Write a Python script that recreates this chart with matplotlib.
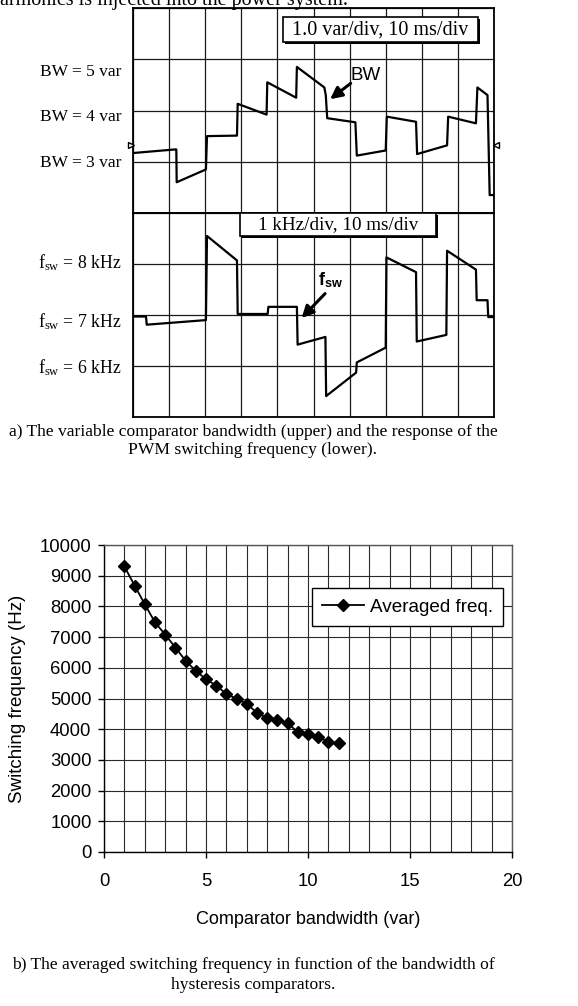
import matplotlib
matplotlib.use("Agg")
import matplotlib.pyplot as plt
from matplotlib.patches import Rectangle

# ---------------- data ----------------
# upper trace: comparator bandwidth (var) vs time (ms)
bw_t = [0, 11.6, 12.0, 12.1, 20.2, 20.5, 28.8, 29.0, 37.0, 37.2, 45.2, 45.4,
        53.0, 53.4, 53.8, 61.6, 62.0, 70.0, 70.3, 78.4, 78.7, 87.0, 87.3,
        95.0, 95.4, 98.2, 98.8, 100]
bw_v = [3.17, 3.24, 3.24, 2.60, 2.85, 3.50, 3.51, 4.13, 3.92, 4.55, 4.25, 4.85,
        4.45, 4.30, 3.85, 3.77, 3.12, 3.22, 3.88, 3.78, 3.15, 3.32, 3.88,
        3.75, 4.45, 4.30, 2.35, 2.35]

# lower trace: switching frequency (kHz) vs time (ms)
fsw_t = [0, 3.6, 3.8, 20.2, 20.5, 28.8, 29.0, 37.3, 37.5, 45.4, 45.6, 53.3, 53.5,
         61.8, 62.0, 70.0, 70.2, 78.4, 78.6, 86.8, 87.0, 95.0, 95.2, 98.2, 98.4, 100]
fsw_v = [6.97, 6.97, 6.81, 6.90, 8.55, 8.07, 7.02, 7.02, 7.16, 7.16, 6.42, 6.57, 5.41,
         5.87, 6.07, 6.36, 8.13, 7.84, 6.48, 6.61, 8.26, 7.89, 7.29, 7.29, 6.96, 6.96]

bw_labels = ["BW = 5 var", "BW = 4 var", "BW = 3 var"]
fsw_labels = [r"f$_{\rm sw}$ = 8 kHz", r"f$_{\rm sw}$ = 7 kHz", r"f$_{\rm sw}$ = 6 kHz"]

# averaged switching frequency vs comparator bandwidth
bandwidth = [1, 1.5, 2, 2.5, 3, 3.5, 4, 4.5, 5, 5.5, 6, 6.5, 7, 7.5, 8, 8.5,
             9, 9.5, 10, 10.5, 11, 11.5]
avg_freq = [9300, 8680, 8070, 7480, 7080, 6660, 6230, 5900, 5630, 5420, 5150,
            4990, 4830, 4530, 4360, 4290, 4200, 3900, 3840, 3740, 3590, 3540]
x_ticks = [0, 5, 10, 15, 20]
y_ticks = list(range(0, 10001, 1000))

# ---------------- style ----------------
plt.rcParams["mathtext.fontset"] = "custom"
plt.rcParams["mathtext.rm"] = "Liberation Serif"
plt.rcParams["mathtext.it"] = "Liberation Serif:italic"
plt.rcParams["mathtext.bf"] = "Liberation Sans:bold"
SERIF = "Liberation Serif"
SANS = "Liberation Sans"

W, H = 578, 1006
fig = plt.figure(figsize=(W / 100, H / 100), dpi=100)


def ax_rect(x0, y0, x1, y1):
    return [x0 / W, 1 - y1 / H, (x1 - x0) / W, (y1 - y0) / H]


# ---------------- scope panels ----------------
ax_u = fig.add_axes(ax_rect(133, 8, 494, 213))
ax_l = fig.add_axes(ax_rect(133, 213, 494, 417))

for ax, ylim in ((ax_u, (2, 6)), (ax_l, (5, 9))):
    ax.set_xlim(0, 100)
    ax.set_ylim(*ylim)
    ax.set_xticks(range(0, 101, 10))
    ax.set_yticks(range(int(ylim[0]), int(ylim[1]) + 1))
    ax.grid(True, color="#1a1a1a", lw=0.9)
    ax.tick_params(length=0, labelleft=False, labelbottom=False)
    for s in ax.spines.values():
        s.set_linewidth(1.3)
        s.set_color("black")

ax_u.plot(bw_t, bw_v, color="black", lw=1.6, zorder=3)
ax_l.plot(fsw_t, fsw_v, color="black", lw=1.6, zorder=3)

# trigger markers
ax_u.plot([-0.6], [3.33], marker=">", ms=4, color="black", mfc="white", clip_on=False, zorder=4)
ax_u.plot([100.6], [3.33], marker="<", ms=4, color="black", mfc="white", clip_on=False, zorder=4)

# side labels
for lab, y in zip(bw_labels, [4.75, 3.88, 2.98]):
    ax_u.text(-3.1, y, lab, ha="right", va="center", family=SERIF, fontsize=12.5)
for lab, y in zip(fsw_labels, [8.02, 6.86, 5.96]):
    ax_l.text(-3.1, y, lab, ha="right", va="center", family=SERIF, fontsize=12.8)


def shadow_box(ax, x0, x1, y0, y1, text, dx, dy, fs):
    ax.add_patch(Rectangle((x0 + dx, y0 - dy), x1 - x0, y1 - y0, facecolor="black",
                           edgecolor="black", lw=0, zorder=5, clip_on=False))
    ax.add_patch(Rectangle((x0, y0), x1 - x0, y1 - y0, facecolor="white",
                           edgecolor="black", lw=1.2, zorder=6, clip_on=False))
    ax.text((x0 + x1) / 2, (y0 + y1) / 2, text, ha="center", va="center",
            family=SERIF, fontsize=fs, zorder=7)


shadow_box(ax_u, 41.5, 95.6, 5.33, 5.82, "1.0 var/div, 10 ms/div", 0.5, 0.04, 14.5)
shadow_box(ax_l, 29.6, 83.9, 8.55, 9.0, "1 kHz/div, 10 ms/div", 0.5, 0.04, 13.8)

# annotations
ax_u.annotate("", xy=(54.6, 4.22), xytext=(60.3, 4.53),
              arrowprops=dict(arrowstyle="-|>,head_length=0.7,head_width=0.35",
                              color="black", lw=2.2, shrinkA=0, shrinkB=0), zorder=6)
ax_u.text(64.5, 4.68, "BW", ha="center", va="center", family=SANS, fontsize=13.5)
ax_l.annotate("", xy=(46.7, 6.94), xytext=(53.2, 7.42),
              arrowprops=dict(arrowstyle="-|>,head_length=0.7,head_width=0.35",
                              color="black", lw=2.2, shrinkA=0, shrinkB=0), zorder=6)
ax_l.text(54.8, 7.69, r"$\mathbf{f}_{\mathbf{sw}}$", ha="center", va="center", fontsize=13)

# partial sentence clipped at top
fig.text(0 / W, 1 - 5 / H, "armonics is injected into the power system.",
         ha="left", va="baseline", family=SERIF, fontsize=14.5)

# caption a
fig.text(253 / W, 1 - 432 / H,
         "a) The variable comparator bandwidth (upper) and the response of the",
         ha="center", va="center", family=SERIF, fontsize=12.6)
fig.text(253 / W, 1 - 450 / H, "PWM switching frequency (lower).",
         ha="center", va="center", family=SERIF, fontsize=12.6)

# ---------------- averaged frequency chart ----------------
ax_b = fig.add_axes(ax_rect(104, 545, 512, 852))
ax_b.plot(bandwidth, avg_freq, color="black", lw=1.3, marker="D", ms=6.5,
          label="Averaged freq.", zorder=3)
ax_b.set_xlim(0, 20)
ax_b.set_ylim(0, 10000)
ax_b.set_xticks(x_ticks)
ax_b.set_xticks(range(0, 21), minor=True)
ax_b.set_yticks(y_ticks)
ax_b.grid(True, which="both", color="#2a2a2a", lw=0.8)
ax_b.tick_params(axis="x", which="major", length=4, width=1, pad=11, labelsize=13.3)
ax_b.tick_params(axis="x", which="minor", length=0)
ax_b.tick_params(axis="y", length=4, width=1, pad=5, labelsize=13.3)
for lab in ax_b.get_xticklabels() + ax_b.get_yticklabels():
    lab.set_family(SANS)
for s in ax_b.spines.values():
    s.set_linewidth(1.0)
ax_b.spines["top"].set_color("#555555")
ax_b.spines["right"].set_color("#555555")
ax_b.set_xlabel("Comparator bandwidth (var)", family=SANS, fontsize=13, labelpad=15)
ax_b.set_ylabel("Switching frequency (Hz)", family=SANS, fontsize=13.5, labelpad=10)
leg = ax_b.legend(loc="upper right", bbox_to_anchor=(0.978, 0.86), frameon=True,
                  fancybox=False, edgecolor="black", framealpha=1,
                  prop={"family": SANS, "size": 13.6}, handlelength=2.2,
                  borderpad=0.55, handletextpad=0.3, borderaxespad=0)
leg.get_frame().set_linewidth(1.0)

# caption b
fig.text(253 / W, 1 - 965 / H,
         "b) The averaged switching frequency in function of the bandwidth of",
         ha="center", va="center", family=SERIF, fontsize=12.6)
fig.text(253 / W, 1 - 985 / H, "hysteresis comparators.",
         ha="center", va="center", family=SERIF, fontsize=12.6)

fig.savefig("out.png", dpi=100)
